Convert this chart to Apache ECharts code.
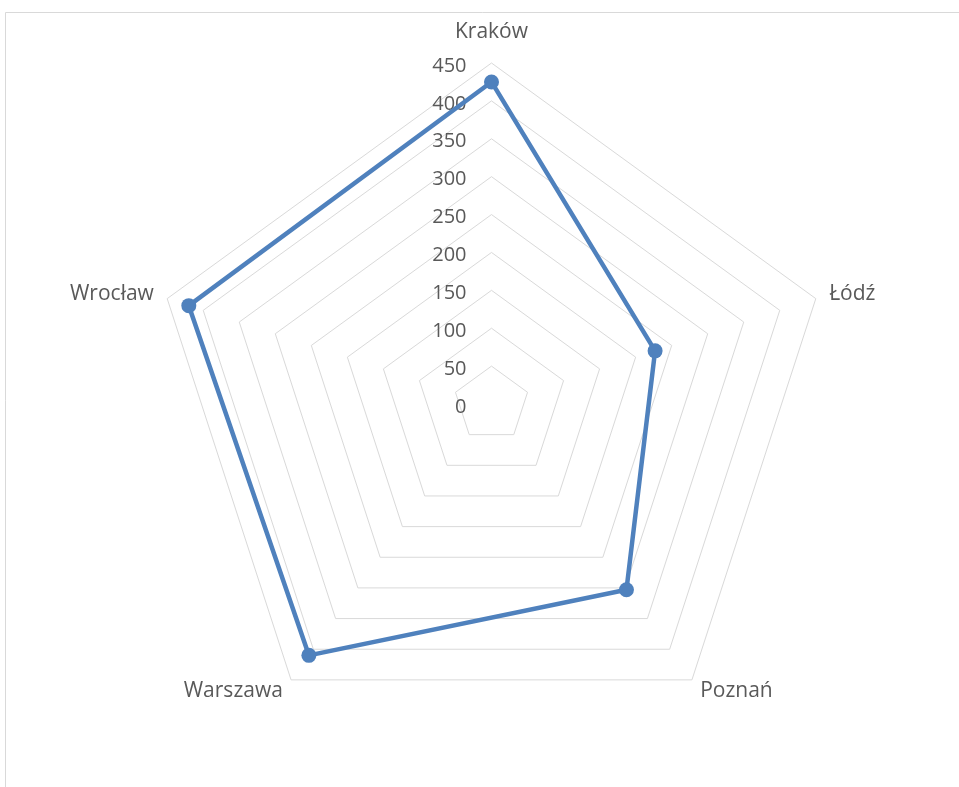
<!DOCTYPE html>
<html>
<head>
<meta charset="utf-8">
<script src="https://cdn.jsdelivr.net/npm/echarts@6/dist/echarts.min.js"></script>
<style>
  html, body { margin: 0; padding: 0; background: #fff; }
  #chart { width: 959px; height: 787px; }
</style>
</head>
<body>
<div id="chart"></div>
<script>
// Cities listed clockwise starting at the top
const cities = ['Kraków', 'Łódź', 'Poznań', 'Warszawa', 'Wrocław'];
const values = [425, 227, 303, 410, 420];
const axisMin = 0;
const axisMax = 450;
const axisStep = 50;

// ECharts lays radar indicators out counter-clockwise, so walk the list backwards after the first
const order = [0].concat(cities.slice(1).map((_, i) => cities.length - 1 - i));

const textColor = '#595959';
const font = '"Open Sans", sans-serif';

const indicators = order.map((idx, k) => {
  const ind = { name: cities[idx], min: axisMin, max: axisMax };
  if (k === 0) {
    ind.axisLabel = {
      show: true,
      color: textColor,
      fontFamily: font,
      fontSize: 20,
      margin: 25,
      formatter: v => '{v|' + v + '}',
      rich: {
        v: { color: textColor, fontFamily: font, fontSize: 20, padding: [6, 0, 0, 0] }
      }
    };
  }
  return ind;
});

const chart = echarts.init(document.getElementById('chart'), null, { renderer: 'canvas' });
chart.setOption({
  animation: false,
  backgroundColor: '#ffffff',
  graphic: [{
    type: 'rect',
    shape: { x: 5.5, y: 12.5, width: 1000, height: 800 },
    style: { fill: 'none', stroke: '#d9d9d9', lineWidth: 1 },
    silent: true
  }],
  radar: {
    center: [491.5, 404],
    radius: 341,
    startAngle: 90,
    shape: 'polygon',
    splitNumber: (axisMax - axisMin) / axisStep,
    indicator: indicators,
    nameGap: 14,
    axisName: {
      color: textColor,
      fontFamily: font,
      fontSize: 21,
      // the top name sits a little higher above its vertex
      formatter: name => (name === cities[0] ? '{top|' + name + '}' : name),
      rich: {
        top: { color: textColor, fontFamily: font, fontSize: 21, padding: [0, 0, 6, 0] }
      }
    },
    axisLine: { show: false },
    axisTick: { show: false },
    axisLabel: { show: false },
    splitLine: { lineStyle: { color: '#d9d9d9', width: 1 } },
    splitArea: { show: false }
  },
  series: [{
    type: 'radar',
    symbol: 'circle',
    symbolSize: 15,
    lineStyle: { color: '#4f81bd', width: 4.5 },
    itemStyle: { color: '#4f81bd' },
    data: [{ value: order.map(i => values[i]), name: 'Wartość' }]
  }]
});
</script>
</body>
</html>
